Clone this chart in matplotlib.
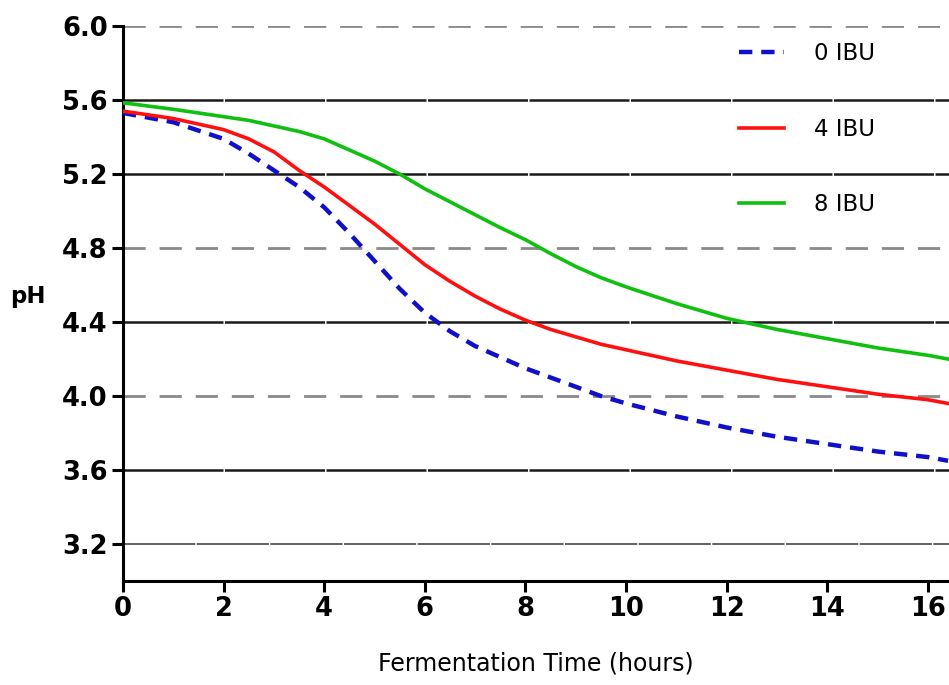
import matplotlib
matplotlib.use("Agg")
import matplotlib.pyplot as plt

# Fermentation time (hours)
time_h = [0, 1, 2, 2.5, 3, 3.5, 4, 4.5, 5, 5.5, 6, 6.5, 7, 7.5, 8, 8.5, 9, 9.5, 10,
          11, 12, 13, 14, 15, 16, 16.4]
# pH values
ph_0ibu = [5.53, 5.48, 5.39, 5.31, 5.22, 5.13, 5.02, 4.88, 4.73, 4.58, 4.45, 4.35, 4.27, 4.21,
           4.15, 4.10, 4.05, 4.00, 3.96, 3.89, 3.83, 3.78, 3.74, 3.70, 3.67, 3.65]
ph_4ibu = [5.54, 5.50, 5.44, 5.39, 5.32, 5.22, 5.13, 5.03, 4.93, 4.82, 4.71, 4.62, 4.54, 4.47,
           4.41, 4.36, 4.32, 4.28, 4.25, 4.19, 4.14, 4.09, 4.05, 4.01, 3.98, 3.96]
ph_8ibu = [5.585, 5.55, 5.51, 5.49, 5.46, 5.43, 5.39, 5.33, 5.27, 5.20, 5.12, 5.05, 4.98, 4.91,
           4.845, 4.77, 4.70, 4.64, 4.59, 4.50, 4.42, 4.36, 4.31, 4.26, 4.22, 4.20]

labels = ["0 IBU", "4 IBU", "8 IBU"]
x_ticks = [0, 2, 4, 6, 8, 10, 12, 14, 16]
y_ticks = [3.2, 3.6, 4.0, 4.4, 4.8, 5.2, 5.6, 6.0]
dashed_grid = [6.0, 4.8, 4.0]
solid_grid = [5.6, 5.2, 4.4, 3.6]
light_grid = [3.2]

fig = plt.figure(figsize=(9.49, 6.85), dpi=100)
ax = fig.add_axes([0.1296, 0.1518, 1 - 0.1296, 0.962 - 0.1518])

for y in dashed_grid:
    ax.axhline(y, color="#8a8a8a", lw=2.0, dashes=(8, 5), zorder=1)
for y in solid_grid:
    ax.axhline(y, color="#1a1a1a", lw=1.8, dashes=(40, 0.6), zorder=1)
for y in light_grid:
    ax.axhline(y, color="#555555", lw=1.3, dashes=(40, 0.8), zorder=1)

ax.plot(time_h, ph_0ibu, color="#1010c8", lw=3.2, dashes=(3, 2), label=labels[0], zorder=3)
ax.plot(time_h, ph_4ibu, color="#ff1010", lw=2.6, label=labels[1], zorder=3)
ax.plot(time_h, ph_8ibu, color="#10c010", lw=2.6, label=labels[2], zorder=3)

ax.set_xlim(0, 16.42)
ax.set_ylim(3.0, 6.0)
ax.set_xticks(x_ticks)
ax.set_yticks(y_ticks)
ax.set_yticklabels([f"{v:.1f}" for v in y_ticks])

for s in ["top", "right"]:
    ax.spines[s].set_visible(False)
for s in ["left", "bottom"]:
    ax.spines[s].set_linewidth(2.2)
    ax.spines[s].set_color("black")

ax.tick_params(axis="both", direction="out", length=8, width=2.2, colors="black",
               labelsize=18.5, pad=3)
for lab in ax.get_xticklabels() + ax.get_yticklabels():
    lab.set_fontweight("bold")
    lab.set_family("DejaVu Sans")

ax.set_xlabel("Fermentation Time (hours)", fontsize=17, family="DejaVu Sans", labelpad=21)
fig.text(0.029, 1 - 297 / 685, "pH", fontsize=16.5, fontweight="bold", family="DejaVu Sans",
         ha="center", va="center")

leg = ax.legend(loc="upper right", bbox_to_anchor=(0.93, 1.0), frameon=False,
                fontsize=16.5, handlelength=2.0, labelspacing=2.3, handletextpad=1.3,
                borderaxespad=0.3)
for t in leg.get_texts():
    t.set_family("DejaVu Sans")

fig.savefig("out.png", dpi=100)
